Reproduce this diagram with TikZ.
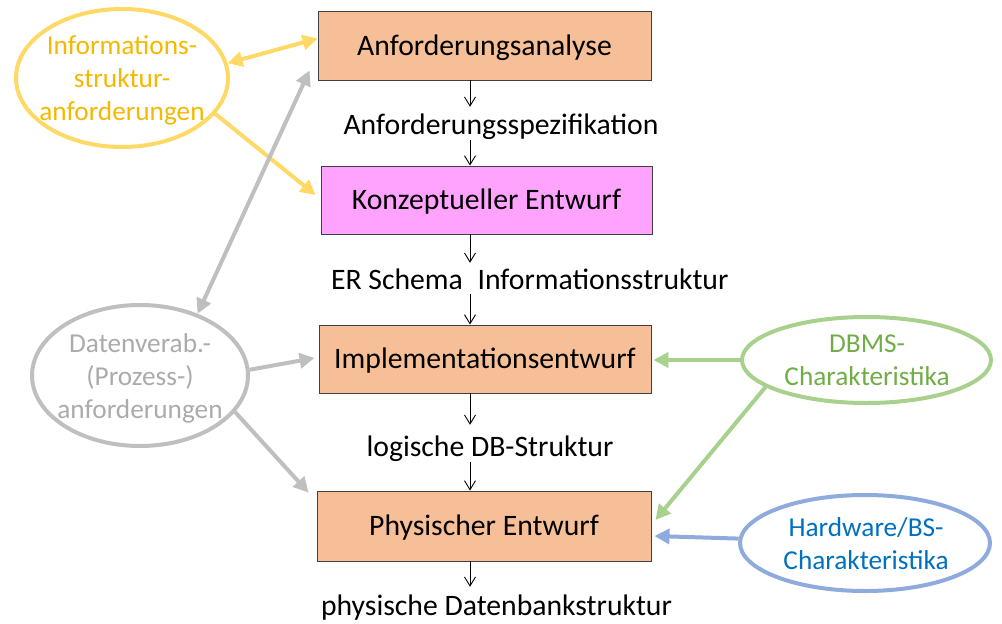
\documentclass[tikz,border=0pt]{standalone}
\usepackage{fontspec}
\setmainfont{Carlito}
\usetikzlibrary{arrows.meta,shapes.geometric,calc}
\definecolor{boxor}{HTML}{F7BF97}
\definecolor{boxpk}{HTML}{FFA3FF}
\definecolor{boxln}{HTML}{404040}
\definecolor{yelln}{HTML}{FFD966}
\definecolor{yeltx}{HTML}{F5B800}
\definecolor{grayln}{HTML}{BFBFBF}
\definecolor{graytx}{HTML}{ABABAB}
\definecolor{grnln}{HTML}{A9D18E}
\definecolor{grntx}{HTML}{70AD47}
\definecolor{bluln}{HTML}{8FAADC}
\definecolor{blutx}{HTML}{0070C0}
\begin{document}
\begin{tikzpicture}[x=1pt,y=-1pt,
  stepbox/.style={draw=boxln, line width=0.9pt, inner sep=0pt,
    text height=22pt, text depth=3pt,
    font=\fontsize{29.7}{34}\selectfont},
  lab/.style={inner sep=0pt, font=\fontsize{29.7}{34}\selectfont},
  ell/.style={ellipse, line width=4pt, inner sep=0pt},
  elltext/.style={align=center, inner sep=0pt, font=\fontsize{27.3}{33}\selectfont},
  flow/.style={line width=0.9pt, -{Straight Barb[length=9pt,width=11pt]}},
  fat/.style={line width=4pt, -{Triangle[length=15pt,width=15pt]}},
  fatboth/.style={line width=4pt, {Triangle[length=15pt,width=15pt]}-{Triangle[length=15pt,width=15pt]}}]
\useasboundingbox (0,0) rectangle (1002,624);
\coordinate (ax) at (470,0);
% boxes
\node[stepbox, fill=boxor, minimum width=333pt, minimum height=69pt] (A) at (484.5,45.5) {Anforderungsanalyse};
\node[stepbox, fill=boxpk, minimum width=331pt, minimum height=68pt] (K) at (486.5,200) {Konzeptueller Entwurf};
\node[stepbox, fill=boxor, minimum width=332pt, minimum height=68pt] (I) at (485,359) {Implementationsentwurf};
\node[stepbox, fill=boxor, minimum width=334pt, minimum height=70pt] (P) at (484,526) {Physischer Entwurf};
% labels
\node[lab, text height=27pt, text depth=6pt] (spec) at (501,123.5) {Anforderungsspezifikation};
\node[lab, text height=26pt, text depth=5pt] (er) at (397,278.5) {ER Schema};
\node[lab, text height=26pt, text depth=5pt] (info) at (603,278.5) {Informationsstruktur};
\node[lab, text height=31pt, text depth=6pt] (log) at (490,443.5) {logische DB-Struktur};
\node[lab, text height=28pt, text depth=9pt] (phys) at (496.5,605.5) {physische Datenbankstruktur};
% flow arrows
\draw[flow] (A.south -| ax) -- (spec.north -| ax);
\draw[flow] (spec.south -| ax) -- (K.north -| ax);
\draw[flow] (K.south -| ax) -- (er.north -| ax);
\draw[flow] (er.south -| ax) -- (I.north -| ax);
\draw[flow] (I.south -| ax) -- (log.north -| ax);
\draw[flow] (log.south -| ax) -- (P.north -| ax);
\draw[flow] (P.south -| ax) -- (phys.north -| ax);
% ellipses
\node[ell, draw=yelln, minimum width=212pt, minimum height=138pt] (yel) at (122,78) {};
\node[elltext, text=yeltx] (yelt) at (122,80) {Informations-\\struktur-\\anforderungen};
\node[ell, draw=grayln, minimum width=216pt, minimum height=141pt] (gry) at (140,375.5) {};
\node[elltext, text=graytx] (gryt) at (140,378) {Datenverab.-\\(Prozess-)\\anforderungen};
\node[ell, draw=grnln, minimum width=249pt, minimum height=86pt] (grn) at (866.5,360) {};
\node[elltext, text=grntx] (grnt) at (867,360) {DBMS-\\Charakteristika};
\node[ell, draw=bluln, minimum width=250pt, minimum height=96pt] (blu) at (865,543) {};
\node[elltext, text=blutx] (blut) at (866,544) {Hardware/BS-\\Charakteristika};
% thick arrows
\draw[fatboth, draw=yelln, fill=yelln] (yel.8) -- ($(A.west)+(0,-7)$);
\draw[fat, draw=yelln, fill=yelln] (yel.-21) -- ($(K.west)+(-5,-5)$);
\draw[fatboth, draw=grayln, fill=grayln] (gry.47) -- ($(A.south west)+(-8,-10)$);
\draw[fat, draw=grayln, fill=grayln] (gry.3) -- ($(I.west)+(-4,-1)$);
\draw[fat, draw=grayln, fill=grayln] (gry.-21) -- ($(P.north west)+(-8,2)$);
\draw[fat, draw=grnln, fill=grnln] (grn.west) -- ($(grn.west -| I.east)+(2,0)$);
\draw[fat, draw=grnln, fill=grnln] (grn.195) -- ($(P.east)+(4,-6)$);
\draw[fat, draw=bluln, fill=bluln] (blu.178) -- ($(P.east)+(3,10)$);
\end{tikzpicture}
\end{document}
